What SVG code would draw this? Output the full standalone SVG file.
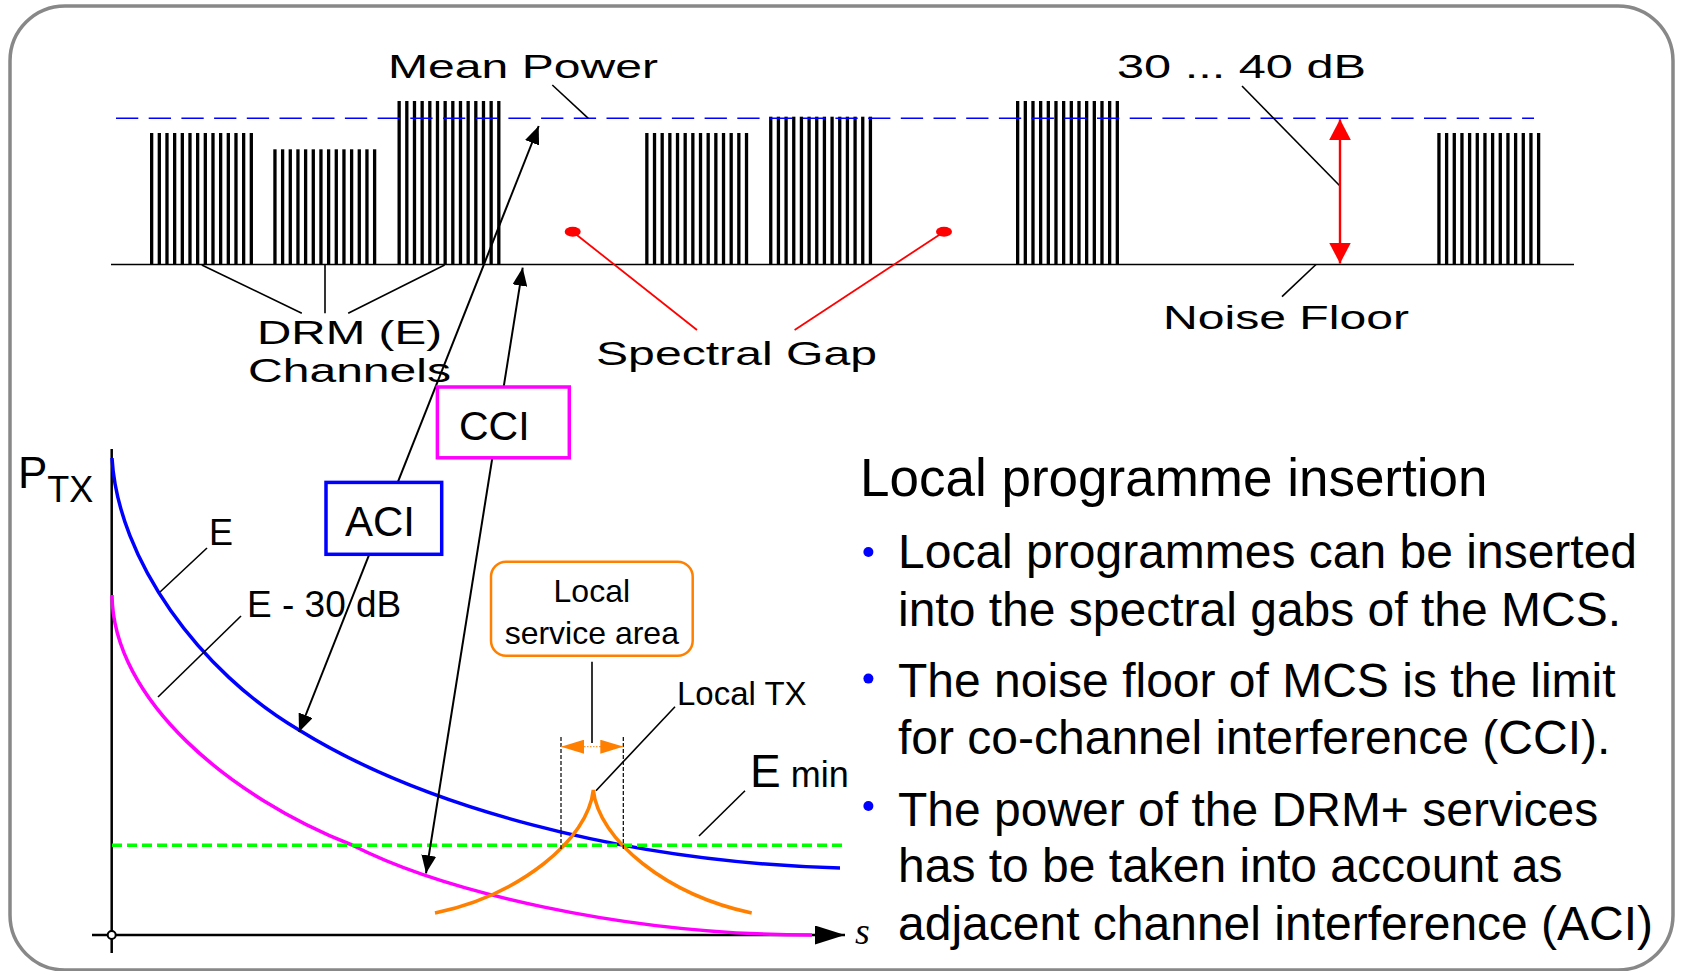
<svg xmlns="http://www.w3.org/2000/svg" xmlns:xlink="http://www.w3.org/1999/xlink" width="1681" height="971" viewBox="0 0 1681 971">
<style>
.t{font-family:"Liberation Sans",Arial,sans-serif;fill:#000}
.wide{font-size:33px}
.body{font-size:48px}
.ln{stroke:#000;stroke-width:1.6;fill:none}
.arr{stroke:#000;stroke-width:2;fill:none}
.red{stroke:#f00;stroke-width:1.8;fill:none}
.curve{fill:none;stroke-width:3.5}
</style>
<defs>
<g id="bars">
<rect x="0" y="0" width="3.3" height="1"/><rect x="7.667" y="0" width="3.3" height="1"/><rect x="15.333" y="0" width="3.3" height="1"/><rect x="23" y="0" width="3.3" height="1"/><rect x="30.667" y="0" width="3.3" height="1"/><rect x="38.333" y="0" width="3.3" height="1"/><rect x="46" y="0" width="3.3" height="1"/><rect x="53.667" y="0" width="3.3" height="1"/><rect x="61.333" y="0" width="3.3" height="1"/><rect x="69" y="0" width="3.3" height="1"/><rect x="76.667" y="0" width="3.3" height="1"/><rect x="84.333" y="0" width="3.3" height="1"/><rect x="92" y="0" width="3.3" height="1"/><rect x="99.667" y="0" width="3.3" height="1"/>
</g>
<marker id="ah" markerUnits="userSpaceOnUse" viewBox="0 0 18 15" markerWidth="18" markerHeight="15" refX="18" refY="7.5" orient="auto-start-reverse"><path d="M0,0 L18,7.5 L0,15 z" fill="#000"/></marker>
<marker id="ahRed" markerUnits="userSpaceOnUse" viewBox="0 0 21 22" markerWidth="21" markerHeight="22" refX="21" refY="11" orient="auto-start-reverse"><path d="M0,0 L21,11 L0,22 z" fill="#f00"/></marker>
<marker id="ahOr" markerUnits="userSpaceOnUse" viewBox="0 0 23 14" markerWidth="23" markerHeight="14" refX="23" refY="7" orient="auto-start-reverse"><path d="M0,0 L23,7 L0,14 z" fill="#ff8000"/></marker>
<marker id="ahAx" markerUnits="userSpaceOnUse" viewBox="0 0 30 19" markerWidth="30" markerHeight="19" refX="30" refY="9.5" orient="auto"><path d="M0,0 L30,9.5 L0,19 z" fill="#000"/></marker>
</defs>

<rect id="frame" x="10" y="6" width="1663" height="964" rx="55" ry="55" fill="#fff" stroke="#888" stroke-width="3.5"/>

<g id="spectrum">
<line x1="111" y1="264.5" x2="1574" y2="264.5" stroke="#000" stroke-width="1.6"/>
<use xlink:href="#bars" transform="translate(150,133) scale(1,131.5)"/>
<use xlink:href="#bars" transform="translate(273.3,149.3) scale(1,115.2)"/>
<use xlink:href="#bars" transform="translate(397.5,101) scale(1,163.5)"/>
<use xlink:href="#bars" transform="translate(645.2,133) scale(1,131.5)"/>
<use xlink:href="#bars" transform="translate(769.1,116.7) scale(1,147.8)"/>
<use xlink:href="#bars" transform="translate(1016,101) scale(1,163.5)"/>
<use xlink:href="#bars" transform="translate(1437.3,133) scale(1,131.5)"/>
<line id="mean-power-line" x1="116" y1="118.3" x2="1534" y2="118.3" stroke="#00f" stroke-width="1.6" stroke-dasharray="22.3 10.4"/>
<ellipse id="gap-dot-1" cx="572.7" cy="231.7" rx="8" ry="5" fill="#f00"/>
<ellipse id="gap-dot-2" cx="944" cy="231.7" rx="8" ry="5" fill="#f00"/>
</g>

<g id="chart">
<line x1="111.7" y1="449" x2="111.7" y2="953" stroke="#000" stroke-width="2.5"/>
<line x1="92" y1="935" x2="845" y2="935" stroke="#000" stroke-width="2.5" marker-end="url(#ahAx)"/>
<path id="curve-E" class="curve" stroke="#00f" d="M112,458 C118,560 200,672 299,730 C420,805 620,862 840,868"/>
<path id="curve-E30" class="curve" stroke="#f0f" d="M112,595 C113,700 230,797 352,845 C440,890 620,935 812,935"/>
<line id="emin-line" x1="112" y1="845.3" x2="845" y2="845.3" stroke="#00ff00" stroke-width="3.5" stroke-dasharray="10 5"/>
<path id="local-tx-curve" class="curve" stroke="#ff8000" stroke-width="3" d="M435,913 C520,895 588,840 593.3,790 C598.6,840 666.6,895 751.7,913"/>
<line x1="561" y1="737" x2="561" y2="850" stroke="#000" stroke-width="1.2" stroke-dasharray="4 2"/>
<line x1="623.3" y1="737" x2="623.3" y2="850" stroke="#000" stroke-width="1.2" stroke-dasharray="4 2"/>
<circle cx="111.7" cy="935" r="4" fill="#fff" stroke="#000" stroke-width="2"/>
</g>

<g id="connectors">
<line class="ln" x1="201.8" y1="265" x2="301.8" y2="313.3"/>
<line class="ln" x1="325" y1="265" x2="325" y2="313.3"/>
<line class="ln" x1="444.6" y1="265" x2="348.2" y2="313.3"/>
<line class="ln" x1="552.3" y1="85" x2="588.3" y2="118.3"/>
<line class="red" x1="572.7" y1="231.7" x2="697" y2="330"/>
<line class="red" x1="944" y1="231.7" x2="794.6" y2="330"/>
<line class="ln" x1="1242" y1="86" x2="1340" y2="186"/>
<line class="ln" x1="1316" y1="264.5" x2="1282" y2="296.7"/>
<line id="range-arrow" x1="1340" y1="119.3" x2="1340" y2="263.5" stroke="#f00" stroke-width="2.4" marker-start="url(#ahRed)" marker-end="url(#ahRed)"/>
<line id="aci-arrow" class="arr" x1="299" y1="732" x2="538.7" y2="126" marker-start="url(#ah)" marker-end="url(#ah)"/>
<line id="cci-arrow" class="arr" x1="426" y1="873.3" x2="522.7" y2="267.7" marker-start="url(#ah)" marker-end="url(#ah)"/>
<line class="ln" x1="207" y1="548" x2="160" y2="592"/>
<line class="ln" x1="241" y1="616" x2="158" y2="697"/>
<line class="ln" x1="592" y1="661.7" x2="592" y2="743"/>
<line x1="584" y1="746.7" x2="600" y2="746.7" stroke="#ff8000" stroke-width="1" stroke-dasharray="1.5 1.5"/>
<line x1="584" y1="746.7" x2="561" y2="746.7" stroke="#ff8000" stroke-width="1" marker-end="url(#ahOr)"/>
<line x1="600" y1="746.7" x2="623.3" y2="746.7" stroke="#ff8000" stroke-width="1" marker-end="url(#ahOr)"/>
<line class="ln" x1="675" y1="706.7" x2="596" y2="790.7"/>
<line class="ln" x1="745" y1="790.7" x2="699" y2="836"/>
</g>

<g id="label-mean-power"><text class="t wide" x="388" y="78" textLength="270" lengthAdjust="spacingAndGlyphs">Mean Power</text></g>
<g id="label-range"><text class="t wide" x="1117" y="78" textLength="249" lengthAdjust="spacingAndGlyphs">30 ... 40 dB</text></g>
<g id="label-drm"><text class="t wide" x="257" y="344" textLength="185" lengthAdjust="spacingAndGlyphs">DRM (E)</text><text class="t wide" x="248" y="382" textLength="203" lengthAdjust="spacingAndGlyphs">Channels</text></g>
<g id="label-gap"><text class="t wide" x="596" y="364.5" textLength="281" lengthAdjust="spacingAndGlyphs">Spectral Gap</text></g>
<g id="label-noise"><text class="t wide" x="1163" y="329" textLength="246" lengthAdjust="spacingAndGlyphs">Noise Floor</text></g>

<g id="box-cci"><rect x="437.4" y="387" width="131.9" height="70.8" fill="#fff" stroke="#f0f" stroke-width="3.5"/><text class="t" x="459" y="439.6" font-size="41">CCI</text></g>
<g id="box-aci"><rect x="326" y="482.4" width="115.7" height="71.9" fill="#fff" stroke="#00f" stroke-width="3.5"/><text class="t" x="345" y="536" font-size="42">ACI</text></g>
<g id="box-local"><rect x="491" y="561.7" width="201.7" height="94" rx="15" ry="15" fill="#fff" stroke="#ff8000" stroke-width="2.5"/><text class="t" x="591.8" y="601.7" font-size="32" text-anchor="middle">Local</text><text class="t" x="591.8" y="644" font-size="32" text-anchor="middle">service area</text></g>

<g id="label-ptx"><text class="t" x="18" y="488" font-size="44">P<tspan font-size="36" dy="14">TX</tspan></text></g>
<g id="label-E"><text class="t" x="209" y="545" font-size="36">E</text></g>
<g id="label-E30"><text class="t" x="247" y="616.5" font-size="37">E - 30 dB</text></g>
<g id="label-localtx"><text class="t" x="677" y="705" font-size="33">Local TX</text></g>
<g id="label-emin"><text class="t" x="750" y="787"><tspan font-size="46">E</tspan><tspan font-size="36"> min</tspan></text></g>
<g id="label-s"><text x="855" y="944" font-family="'Liberation Serif','Times New Roman',serif" font-style="italic" font-size="38">s</text></g>

<g id="text-panel">
<text class="t" x="860" y="496" font-size="53">Local programme insertion</text>
<circle cx="868.4" cy="552" r="5" fill="#00f"/>
<text class="t body" x="898" y="568">Local programmes can be inserted</text>
<text class="t body" x="898" y="626">into the spectral gabs of the MCS.</text>
<circle cx="868.4" cy="678.6" r="5" fill="#00f"/>
<text class="t body" x="898" y="697">The noise floor of MCS is the limit</text>
<text class="t body" x="898" y="754">for co-channel interference (CCI).</text>
<circle cx="868.4" cy="806" r="5" fill="#00f"/>
<text class="t body" x="898" y="825.5">The power of the DRM+ services</text>
<text class="t body" x="898" y="882">has to be taken into account as</text>
<text class="t body" x="898" y="940">adjacent channel interference (ACI)</text>
</g>
</svg>
